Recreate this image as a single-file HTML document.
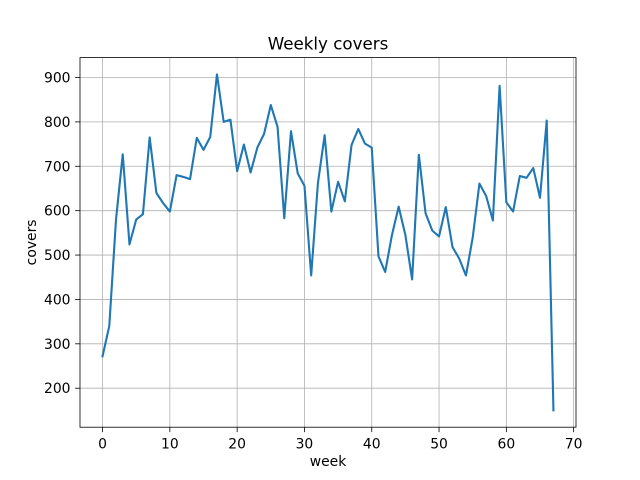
<!DOCTYPE html>
<html><head><meta charset="utf-8"><style>
html,body{margin:0;padding:0;background:#fff;}
svg{display:block;font-family:"DejaVu Sans","Liberation Sans",sans-serif;}
</style></head><body>
<svg id="chart" width="640" height="480" viewBox="0 0 640 480"></svg>
<script>
const weeks = [];
for (let i = 0; i < 68; i++) weeks.push(i);
const covers = [272,340,580,727,524,580,592,765,640,617,598,680,676,671,764,737,766,907,800,805,689,749,686,742,773,838,789,583,779,684,656,454,662,770,598,665,621,748,784,751,742,497,462,545,609,545,445,726,594,555,542,608,518,492,454,539,661,633,578,881,619,598,678,674,696,629,803,150];
const xTicks = [0,10,20,30,40,50,60,70];
const yTicks = [200,300,400,500,600,700,800,900];

const L=80,R=576,T=57.6,B=427.2;
const xmin=-3.35,xmax=70.35;
const ymin=Math.min(...covers),ymax=Math.max(...covers);
const ym=(ymax-ymin)*0.05, y0=ymin-ym, y1=ymax+ym;
const sx=v=>L+(v-xmin)/(xmax-xmin)*(R-L);
const sy=v=>B-(v-y0)/(y1-y0)*(B-T);
const svg=document.getElementById('chart');
const NS='http://www.w3.org/2000/svg';
function mk(tag,attrs,parent){const e=document.createElementNS(NS,tag);for(const k in attrs)e.setAttribute(k,attrs[k]);(parent||svg).appendChild(e);return e;}

const grid=mk('g',{});


xTicks.forEach(t=>{
  const x=sx(t);
  const gl=mk('line',{x1:x,x2:x,y1:T,y2:B,stroke:'#b0b0b0','stroke-width':0.8},grid);
  
  
  const tk=mk('line',{x1:x,x2:x,y1:B,y2:B+4.9,stroke:'#000','stroke-width':0.8});
  
  
  const tx=mk('text',{x:x,y:B+21.5,'text-anchor':'middle','font-size':13.9});
  tx.textContent=t;
  
  
});
yTicks.forEach(t=>{
  const y=sy(t);
  const gl=mk('line',{x1:L,x2:R,y1:y,y2:y,stroke:'#b0b0b0','stroke-width':0.8},grid);
  
  
  const tk=mk('line',{x1:L-4.9,x2:L,y1:y,y2:y,stroke:'#000','stroke-width':0.8});
  
  
  const tx=mk('text',{x:L-9.5,y:y+5,'text-anchor':'end','font-size':13.9});
  tx.textContent=t;
  
  
});

const pts=weeks.map((w,i)=>sx(w).toFixed(2)+','+sy(covers[i]).toFixed(2)).join(' ');
const line=mk('polyline',{points:pts,fill:'none',stroke:'#1f77b4','stroke-width':2.1,'stroke-linejoin':'round','stroke-linecap':'square'});



const frame=mk('rect',{x:L,y:T,width:R-L,height:B-T,fill:'none',stroke:'#000','stroke-width':0.8});



const title=mk('text',{x:(L+R)/2,y:T-8,'text-anchor':'middle','font-size':16.7});
title.textContent='Weekly covers';



const xl=mk('text',{x:(L+R)/2,y:B+39,'text-anchor':'middle','font-size':13.9});
xl.textContent='week';



const yl=mk('text',{x:0,y:0,'text-anchor':'middle','font-size':13.9,transform:'translate(36,'+((T+B)/2)+') rotate(-90)'});
yl.textContent='covers';


</script>
</body></html>
